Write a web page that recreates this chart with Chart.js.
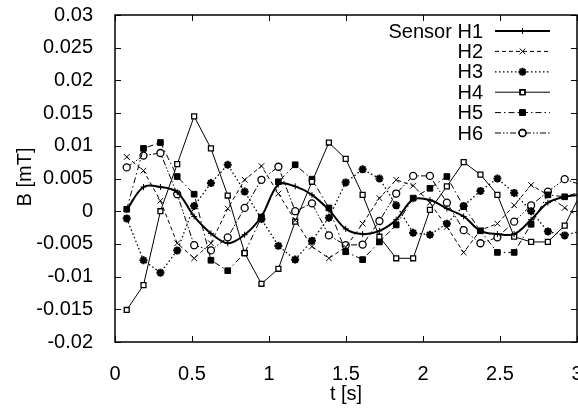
<!DOCTYPE html>
<html>
<head>
<meta charset="utf-8">
<script src="https://cdn.jsdelivr.net/npm/chart.js@4.4.1/dist/chart.umd.min.js"></script>
<style>
  html, body { margin: 0; padding: 0; background: #fff; }
  #wrap { width: 578px; height: 410px; }
</style>
</head>
<body>
<div id="wrap"><canvas id="fieldChart" width="578" height="410"></canvas></div>
<script>
// sample times [s]
const times = [0.076, 0.185, 0.295, 0.404, 0.514, 0.623, 0.732, 0.842, 0.951, 1.061,
  1.170, 1.279, 1.389, 1.498, 1.608, 1.717, 1.826, 1.936, 2.045, 2.155,
  2.264, 2.373, 2.483, 2.592, 2.702, 2.811, 2.920, 3.030];

// B [mT] per sensor
const sensorH1 = [0.0002, 0.0037, 0.0037, 0.0029, -0.0008, -0.0034, -0.0049, -0.0036, -0.0008, 0.0041,
  0.0038, 0.0025, 0.0002, -0.0027, -0.0035, -0.0030, -0.0013, 0.0018, 0.0017, 0.0004,
  -0.0008, -0.0030, -0.0035, -0.0035, -0.0013, 0.0013, 0.0022, 0.0025];
const sensorH2 = [0.0083, 0.0062, 0.0016, -0.0049, -0.0072, -0.0049, 0.0004, 0.0048, 0.0069, 0.0027,
  -0.0014, -0.0054, -0.0072, -0.0055, -0.0019, 0.0020, 0.0048, 0.0039, 0.0013, -0.0024,
  -0.0063, -0.0029, -0.0019, 0.0009, 0.0040, 0.0025, 0.0005, -0.0010];
const sensorH3 = [-0.0011, -0.0075, -0.0094, -0.0060, 0.0008, 0.0043, 0.0071, 0.0030, -0.0012, -0.0053,
  -0.0074, -0.0045, -0.0010, 0.0044, 0.0064, 0.0050, 0.0009, -0.0033, -0.0036, -0.0019,
  0.0008, 0.0031, 0.0050, 0.0028, 0.0000, -0.0031, -0.0037, -0.0030];
const sensorH4 = [-0.0151, -0.0113, 0.0000, 0.0072, 0.0145, 0.0096, 0.0024, -0.0064, -0.0111, -0.0088,
  -0.0016, 0.0045, 0.0105, 0.0080, 0.0025, -0.0039, -0.0072, -0.0072, 0.0002, 0.0038,
  0.0075, 0.0056, 0.0025, -0.0039, -0.0047, -0.0047, -0.0022, 0.0030];
const sensorH5 = [0.0003, 0.0096, 0.0105, 0.0053, 0.0026, -0.0075, -0.0091, -0.0064, -0.0009, 0.0045,
  0.0071, 0.0049, 0.0005, -0.0062, -0.0074, -0.0047, -0.0021, 0.0020, 0.0035, 0.0053,
  0.0007, -0.0030, -0.0063, -0.0063, -0.0020, 0.0025, 0.0022, 0.0030];
const sensorH6 = [0.0067, 0.0085, 0.0089, 0.0026, -0.0052, -0.0060, -0.0040, 0.0005, 0.0048, 0.0068,
  0.0000, 0.0012, -0.0037, -0.0052, -0.0051, -0.0015, 0.0027, 0.0054, 0.0054, 0.0013,
  -0.0029, -0.0049, -0.0040, -0.0016, 0.0009, 0.0030, 0.0049, 0.0040];

const seriesLabels = ["Sensor H1", "H2", "H3", "H4", "H5", "H6"];
const xTicks = [0, 0.5, 1, 1.5, 2, 2.5, 3];
const yTicks = [-0.02, -0.015, -0.01, -0.005, 0, 0.005, 0.01, 0.015, 0.02, 0.025, 0.03];

const FONT = "'Liberation Sans', Arial, Helvetica, sans-serif";

const styles = [
  { dash: [], width: 2, point: "cross", radius: 3, fill: "#000", pbw: 1 },
  { dash: [4, 3], width: 1, point: "crossRot", radius: 4, fill: "#000", pbw: 1 },
  { dash: [1.5, 2.5], width: 1.3, point: "star", radius: 4, fill: "#000", pbw: 2.2 },
  { dash: [], width: 1, point: "rect", radius: 3.5, fill: "#fff", pbw: 1.3 },
  { dash: [6, 3, 1.5, 3], width: 1, point: "rect", radius: 4, fill: "#000", pbw: 1 },
  { dash: [6, 2, 1.5, 2, 1.5, 2], width: 1, point: "circle", radius: 3.5, fill: "#fff", pbw: 1.3 },
];

function toPoints(values) {
  return values.map((v, i) => ({ x: times[i], y: v }));
}

const allSeries = [sensorH1, sensorH2, sensorH3, sensorH4, sensorH5, sensorH6];

const datasets = allSeries.map((values, i) => ({
  label: seriesLabels[i],
  data: toPoints(values),
  borderColor: "#000",
  borderWidth: styles[i].width,
  borderDash: styles[i].dash,
  pointStyle: styles[i].point,
  pointRadius: styles[i].radius,
  pointBorderWidth: styles[i].pbw,
  pointBackgroundColor: styles[i].fill,
  pointBorderColor: "#000",
  fill: false,
  tension: i === 0 ? 0.35 : 0,
}));

// gnuplot-like frame with inward ticks on all four sides, plus the y title
const framePlugin = {
  id: "frame",
  afterDraw(chart) {
    const { ctx, chartArea: a, scales } = chart;
    ctx.save();
    ctx.strokeStyle = "#000";
    ctx.lineWidth = 1.5;
    ctx.strokeRect(a.left, a.top, a.right - a.left, a.bottom - a.top);
    ctx.lineWidth = 1;
    const len = 6;
    ctx.beginPath();
    xTicks.forEach((t) => {
      const px = Math.round(scales.x.getPixelForValue(t)) + 0.5;
      ctx.moveTo(px, a.bottom);
      ctx.lineTo(px, a.bottom - len);
      ctx.moveTo(px, a.top);
      ctx.lineTo(px, a.top + len);
    });
    yTicks.forEach((t) => {
      const py = Math.round(scales.y.getPixelForValue(t)) + 0.5;
      ctx.moveTo(a.left, py);
      ctx.lineTo(a.left + len, py);
      ctx.moveTo(a.right, py);
      ctx.lineTo(a.right - len, py);
    });
    ctx.stroke();

    ctx.translate(25, 177);
    ctx.rotate(-Math.PI / 2);
    ctx.font = "20px " + FONT;
    ctx.textAlign = "center";
    ctx.textBaseline = "middle";
    ctx.fillStyle = "#000";
    ctx.fillText("B [mT]", 0, 0);
    ctx.restore();
  },
};

// legend in the top right corner: label, then a line sample with the marker
const keyPlugin = {
  id: "key",
  afterDatasetsDraw(chart) {
    const { ctx } = chart;
    const textRight = 483;
    const lineStart = 495;
    const lineEnd = 550;
    const firstRow = 31;
    const rowGap = 20.4;
    ctx.save();
    ctx.font = "20px " + FONT;
    ctx.textAlign = "right";
    ctx.textBaseline = "middle";
    chart.data.datasets.forEach((ds, i) => {
      const y = firstRow + i * rowGap;
      ctx.fillStyle = "#000";
      ctx.fillText(ds.label, textRight, y + 1);
      ctx.beginPath();
      ctx.setLineDash(ds.borderDash);
      ctx.lineWidth = ds.borderWidth;
      ctx.strokeStyle = "#000";
      ctx.moveTo(lineStart, y);
      ctx.lineTo(lineEnd, y);
      ctx.stroke();
      ctx.setLineDash([]);
      ctx.fillStyle = ds.pointBackgroundColor;
      ctx.lineWidth = ds.pointBorderWidth;
      Chart.helpers.drawPoint(ctx, {
        pointStyle: ds.pointStyle,
        radius: ds.pointRadius,
        rotation: 0,
        borderWidth: ds.pointBorderWidth,
      }, (lineStart + lineEnd) / 2, y);
      if (ds.pointStyle !== "cross" && ds.pointStyle !== "crossRot" && ds.pointStyle !== "star") {
        ctx.stroke();
      }
    });
    ctx.restore();
  },
};

const ctx = document.getElementById("fieldChart").getContext("2d");
new Chart(ctx, {
  type: "line",
  data: { datasets: datasets },
  options: {
    responsive: false,
    animation: false,
    devicePixelRatio: 1,
    layout: {
      autoPadding: false,
      padding: { top: 15, right: 1, bottom: 0, left: 0 },
    },
    plugins: {
      legend: { display: false },
      tooltip: { enabled: false },
    },
    scales: {
      x: {
        type: "linear",
        min: 0,
        max: 3,
        border: { display: false },
        grid: { display: false },
        afterFit: (scale) => {
          scale.height = 68;
          scale.paddingLeft = 0;
          scale.paddingRight = 0;
        },
        afterBuildTicks: (scale) => { scale.ticks = xTicks.map((v) => ({ value: v })); },
        ticks: {
          color: "#000",
          padding: 12,
          maxRotation: 0,
          font: { family: FONT, size: 20 },
          callback: (v) => String(v),
        },
        title: {
          display: true,
          text: "t [s]",
          color: "#000",
          font: { family: FONT, size: 20 },
          padding: { top: 0, bottom: 4 },
        },
      },
      y: {
        type: "linear",
        min: -0.02,
        max: 0.03,
        border: { display: false },
        grid: { display: false },
        afterFit: (scale) => {
          scale.width = 115;
          scale.paddingTop = 0;
          scale.paddingBottom = 0;
        },
        afterBuildTicks: (scale) => { scale.ticks = yTicks.map((v) => ({ value: v })); },
        ticks: {
          color: "#000",
          padding: 14,
          font: { family: FONT, size: 20 },
          callback: (v) => String(Number(v.toFixed(3))),
        },
      },
    },
  },
  plugins: [framePlugin, keyPlugin],
});
</script>
</body>
</html>
